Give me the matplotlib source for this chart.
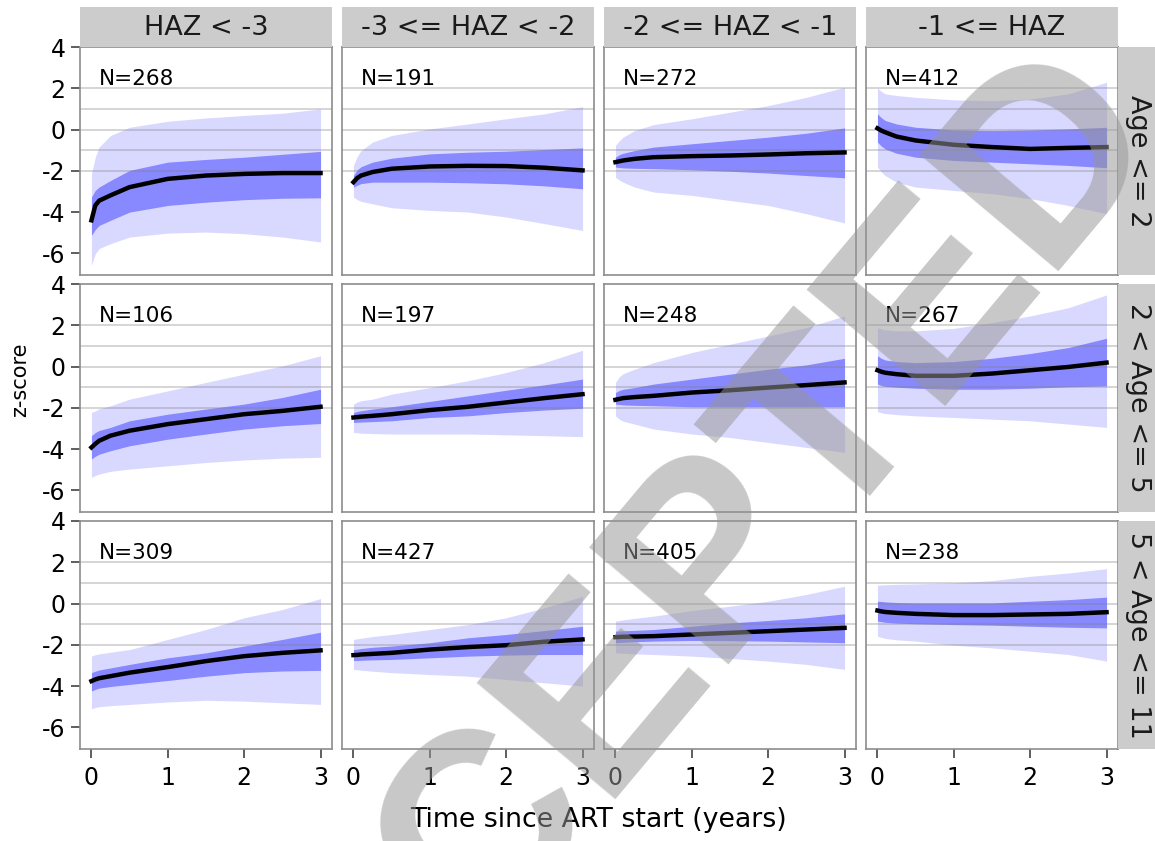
import numpy as np
import matplotlib.pyplot as plt

plt.rcParams['font.family'] = ['DejaVu Sans']
plt.rcParams['axes.unicode_minus'] = False

# time points (years since ART start) at which the curves were read
years = [0, 0.05, 0.1, 0.25, 0.5, 1, 1.5, 2, 2.5, 3]

haz_groups = ['HAZ < -3', '-3 <= HAZ < -2', '-2 <= HAZ < -1', '-1 <= HAZ']
age_groups = ['Age <= 2', '2 < Age <= 5', '5 < Age <= 11']
n_children = [268, 191, 272, 412, 106, 197, 248, 267, 309, 427, 405, 238]

# one list per panel, row by row (age group), column by column (HAZ group)
mean_z = [
    [-4.40, -3.68, -3.45, -3.19, -2.79, -2.39, -2.23, -2.15, -2.11, -2.11],
    [-2.55, -2.35, -2.23, -2.06, -1.90, -1.79, -1.76, -1.77, -1.85, -1.98],
    [-1.58, -1.54, -1.50, -1.42, -1.34, -1.29, -1.26, -1.21, -1.15, -1.11],
    [0.06, -0.05, -0.13, -0.34, -0.53, -0.74, -0.85, -0.94, -0.89, -0.85],
    [-3.92, -3.75, -3.60, -3.35, -3.11, -2.79, -2.55, -2.31, -2.15, -1.95],
    [-2.47, -2.45, -2.43, -2.39, -2.31, -2.11, -1.95, -1.74, -1.53, -1.34],
    [-1.61, -1.57, -1.53, -1.48, -1.42, -1.26, -1.15, -1.02, -0.90, -0.77],
    [-0.18, -0.25, -0.30, -0.37, -0.45, -0.45, -0.34, -0.18, -0.02, 0.19],
    [-3.76, -3.68, -3.62, -3.52, -3.35, -3.08, -2.79, -2.55, -2.39, -2.27],
    [-2.50, -2.49, -2.47, -2.44, -2.39, -2.23, -2.11, -2.02, -1.85, -1.74],
    [-1.63, -1.62, -1.61, -1.60, -1.58, -1.50, -1.42, -1.34, -1.26, -1.18],
    [-0.34, -0.38, -0.41, -0.45, -0.50, -0.56, -0.56, -0.53, -0.50, -0.42],
]
inner_hi = [
    [-3.27, -2.95, -2.79, -2.47, -1.98, -1.58, -1.45, -1.34, -1.20, -1.06],
    [-2.23, -1.95, -1.80, -1.58, -1.39, -1.18, -1.10, -1.05, -0.97, -0.89],
    [-1.34, -1.22, -1.15, -1.02, -0.85, -0.69, -0.53, -0.37, -0.18, 0.08],
    [0.76, 0.58, 0.44, 0.27, 0.11, -0.02, -0.05, -0.02, 0.03, 0.11],
    [-3.35, -3.20, -3.10, -2.95, -2.63, -2.31, -2.06, -1.82, -1.50, -1.10],
    [-2.23, -2.18, -2.14, -2.06, -1.95, -1.69, -1.42, -1.15, -0.89, -0.61],
    [-1.26, -1.16, -1.10, -1.02, -0.85, -0.61, -0.37, -0.13, 0.08, 0.40],
    [0.52, 0.40, 0.32, 0.24, 0.19, 0.24, 0.40, 0.63, 0.92, 1.37],
    [-3.35, -3.28, -3.22, -3.12, -2.95, -2.63, -2.39, -2.06, -1.74, -1.39],
    [-2.23, -2.21, -2.18, -2.12, -2.06, -1.90, -1.66, -1.50, -1.31, -1.10],
    [-1.34, -1.33, -1.32, -1.30, -1.26, -1.10, -0.94, -0.82, -0.69, -0.50],
    [0.11, 0.10, 0.08, 0.05, 0.03, 0.03, 0.03, 0.11, 0.19, 0.31],
]
inner_lo = [
    [-5.13, -4.85, -4.65, -4.40, -4.00, -3.68, -3.52, -3.40, -3.33, -3.31],
    [-2.79, -2.70, -2.62, -2.55, -2.55, -2.55, -2.58, -2.63, -2.73, -2.87],
    [-1.82, -1.84, -1.86, -1.88, -1.90, -1.95, -2.02, -2.11, -2.23, -2.34],
    [-0.61, -0.80, -0.94, -1.15, -1.34, -1.50, -1.58, -1.66, -1.74, -1.85],
    [-4.48, -4.35, -4.25, -4.08, -3.84, -3.52, -3.27, -3.03, -2.87, -2.76],
    [-2.71, -2.70, -2.69, -2.67, -2.63, -2.47, -2.39, -2.23, -2.11, -2.02],
    [-1.82, -1.84, -1.86, -1.88, -1.90, -1.95, -1.95, -1.95, -1.95, -1.95],
    [-0.85, -0.92, -0.96, -1.00, -1.05, -1.10, -1.10, -1.05, -0.98, -0.94],
    [-4.24, -4.16, -4.10, -4.02, -3.92, -3.73, -3.52, -3.35, -3.27, -3.24],
    [-2.76, -2.76, -2.75, -2.73, -2.71, -2.63, -2.55, -2.50, -2.47, -2.47],
    [-1.90, -1.89, -1.88, -1.85, -1.82, -1.79, -1.80, -1.82, -1.86, -1.90],
    [-0.85, -0.88, -0.91, -0.95, -0.98, -1.02, -1.05, -1.10, -1.15, -1.18],
]
outer_hi = [
    [-2.15, -1.34, -0.85, -0.29, 0.11, 0.40, 0.56, 0.68, 0.79, 1.00],
    [-1.74, -1.30, -1.02, -0.61, -0.29, 0.03, 0.27, 0.52, 0.76, 1.11],
    [-0.77, -0.55, -0.37, -0.05, 0.24, 0.52, 0.84, 1.16, 1.56, 2.05],
    [2.02, 1.85, 1.73, 1.65, 1.56, 1.44, 1.40, 1.48, 1.73, 2.29],
    [-2.23, -2.15, -2.05, -1.90, -1.58, -1.18, -0.77, -0.37, 0.03, 0.52],
    [-1.82, -1.72, -1.66, -1.58, -1.34, -1.02, -0.69, -0.29, 0.19, 0.79],
    [-0.77, -0.50, -0.35, -0.13, 0.19, 0.68, 1.08, 1.48, 1.89, 2.45],
    [1.89, 1.82, 1.78, 1.73, 1.73, 1.85, 2.13, 2.45, 2.85, 3.47],
    [-2.55, -2.48, -2.44, -2.36, -2.23, -1.74, -1.26, -0.69, -0.29, 0.24],
    [-1.74, -1.71, -1.68, -1.60, -1.50, -1.26, -1.02, -0.69, -0.21, 0.35],
    [-0.85, -0.82, -0.79, -0.72, -0.61, -0.34, -0.13, 0.11, 0.44, 0.84],
    [0.89, 0.90, 0.91, 0.93, 0.95, 1.00, 1.11, 1.32, 1.48, 1.69],
]
outer_lo = [
    [-6.58, -6.02, -5.77, -5.53, -5.21, -5.02, -4.97, -5.05, -5.21, -5.45],
    [-3.27, -3.40, -3.48, -3.60, -3.79, -3.92, -4.00, -4.24, -4.56, -4.89],
    [-2.31, -2.45, -2.55, -2.79, -3.03, -3.19, -3.44, -3.68, -4.08, -4.53],
    [-1.82, -2.05, -2.23, -2.55, -2.79, -2.95, -3.11, -3.35, -3.68, -4.08],
    [-5.37, -5.28, -5.21, -5.08, -4.97, -4.81, -4.65, -4.53, -4.44, -4.40],
    [-3.19, -3.21, -3.23, -3.25, -3.27, -3.27, -3.27, -3.31, -3.35, -3.40],
    [-2.39, -2.55, -2.65, -2.79, -3.03, -3.27, -3.44, -3.68, -3.92, -4.16],
    [-2.18, -2.24, -2.28, -2.33, -2.39, -2.47, -2.55, -2.63, -2.79, -2.95],
    [-5.10, -5.04, -5.00, -4.95, -4.89, -4.77, -4.69, -4.73, -4.81, -4.89],
    [-3.19, -3.21, -3.23, -3.28, -3.35, -3.44, -3.52, -3.68, -3.84, -4.00],
    [-2.39, -2.40, -2.41, -2.44, -2.47, -2.55, -2.66, -2.79, -2.95, -3.19],
    [-1.58, -1.64, -1.69, -1.76, -1.82, -2.02, -2.15, -2.31, -2.47, -2.79],
]
ref_lines = [-2, -1, 0, 1, 2]

W, H = 1155, 841
fig = plt.figure(figsize=(W / 100, H / 100), dpi=100)


def box(x, y, w, h):
    # pixel box (from top-left) -> figure fraction
    return [x / W, 1 - (y + h) / H, w / W, h / H]


col_left = [80, 342, 604, 866]
row_top = [47, 284, 521]
pw, ph = 252, 228

for i in range(12):
    r, c = divmod(i, 4)
    ax = fig.add_axes(box(col_left[c], row_top[r], pw, ph))
    ax.fill_between(years, outer_lo[i], outer_hi[i], color='#D9D9FF', lw=0, zorder=1)
    ax.fill_between(years, inner_lo[i], inner_hi[i], color='#8888FF', lw=0, zorder=2)
    for g in ref_lines:
        ax.axhline(g, color='gray', alpha=0.35, lw=1.3, zorder=2.5)
    ax.plot(years, mean_z[i], color='black', lw=3.2, zorder=3)
    ax.text(0.1, 2.15, 'N=%d' % n_children[i], fontsize=15.5, va='baseline', zorder=4)
    ax.set_xlim(-0.15, 3.15)
    ax.set_ylim(-7.05, 4.0)
    for s in ax.spines.values():
        s.set_color('#8C8C8C')
        s.set_linewidth(1.2)
    ax.set_xticks([0, 1, 2, 3])
    ax.set_yticks([-6, -4, -2, 0, 2, 4])
    ax.tick_params(direction='out', length=6.5, width=1.1, color='#333333',
                   labelsize=17, labelcolor='black')
    ax.tick_params(axis='x', pad=6)
    ax.tick_params(axis='y', pad=4)
    if c != 0:
        ax.tick_params(axis='y', left=False, labelleft=False)
    if r != 2:
        ax.tick_params(axis='x', bottom=False, labelbottom=False)

# column strips
for c in range(4):
    sa = fig.add_axes(box(col_left[c], 7, pw, 40))
    sa.set_facecolor('#CCCCCC')
    sa.set_xticks([])
    sa.set_yticks([])
    for s in sa.spines.values():
        s.set_visible(False)
    sa.text(0.5, 0.47, haz_groups[c], ha='center', va='center', fontsize=19.5,
            color='#1A1A1A', transform=sa.transAxes)

# row strips
for r in range(3):
    sa = fig.add_axes(box(1118, row_top[r], 40, ph))
    sa.set_facecolor('#CCCCCC')
    sa.set_xticks([])
    sa.set_yticks([])
    for s in sa.spines.values():
        s.set_visible(False)
    sa.text(0.5, 0.5, age_groups[r], ha='center', va='center', fontsize=19.5,
            rotation=-90, color='#1A1A1A', transform=sa.transAxes)

fig.text(599 / W, 1 - 827 / H, 'Time since ART start (years)', ha='center',
         va='baseline', fontsize=19.3)
fig.text(20 / W, 1 - 380 / H, 'z-score', ha='center', va='center',
         rotation=90, fontsize=15)

# watermark
fig.text(650 / W, 1 - 645 / H, 'ACCEPTED', ha='center', va='center',
         rotation=50, fontsize=190, fontweight='bold', family='Liberation Sans',
         color='#979797', alpha=0.53, zorder=100)

fig.savefig('out.png', dpi=100)
